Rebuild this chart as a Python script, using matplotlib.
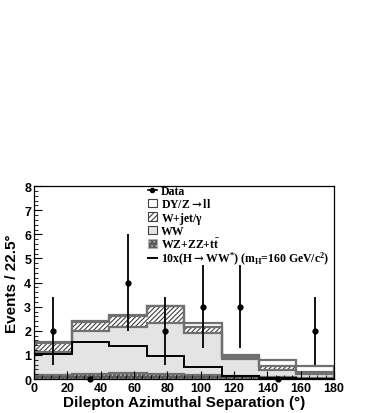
import numpy as np
import matplotlib
matplotlib.use("Agg")
import matplotlib.pyplot as plt
from matplotlib.patches import Patch
from matplotlib.lines import Line2D

# bin edges (degrees) and stacked backgrounds
edges = np.arange(0, 181, 22.5)
wz_zz_tt = [0.16, 0.22, 0.24, 0.22, 0.18, 0.14, 0.08, 0.06]
ww = [0.97, 1.77, 1.92, 2.09, 1.72, 0.68, 0.29, 0.16]
wjet = [0.38, 0.39, 0.47, 0.71, 0.26, 0.08, 0.18, 0.08]
dy = [0.01, 0.02, 0.02, 0.02, 0.17, 0.09, 0.23, 0.26]
higgs10 = [1.03, 1.55, 1.37, 0.97, 0.52, 0.12, 0.03, 0.01]

data_x = [11.25, 33.75, 56.25, 78.75, 101.25, 123.75, 146.25, 168.75]
data_y = [2, 0, 4, 2, 3, 3, 0, 2]
data_err = [1.41, 0, 2.0, 1.41, 1.73, 1.73, 0, 1.41]

plt.rcParams['mathtext.fontset'] = 'custom'
plt.rcParams['mathtext.rm'] = 'Liberation Serif:bold'
plt.rcParams['mathtext.it'] = 'Liberation Serif:bold'
plt.rcParams['mathtext.bf'] = 'Liberation Serif:bold'
plt.rcParams['mathtext.sf'] = 'DejaVu Serif:bold'
plt.rcParams['hatch.linewidth'] = 0.8

fig = plt.figure(figsize=(3.74, 4.14), dpi=100)
ax = fig.add_axes([0.091, 0.082, 0.802, 0.466])

outline = '#707070'
b0 = np.zeros(8)
b1 = b0 + np.array(wz_zz_tt)
b2 = b1 + np.array(ww)
b3 = b2 + np.array(wjet)
b4 = b3 + np.array(dy)

# DY on top (white)
ax.stairs(b4, edges, baseline=b3, fill=True, facecolor='white', edgecolor='none')
# W+jet hatched
ax.stairs(b3, edges, baseline=b2, fill=True, facecolor='white', edgecolor='#404040',
          hatch='///////', linewidth=0)
# WW light gray
ax.stairs(b2, edges, baseline=b1, fill=True, facecolor='#e4e4e4', edgecolor='none')
# WZ+ZZ+tt dark dotted
ax.stairs(b1, edges, baseline=b0, fill=True, facecolor='#5a5a5a', edgecolor='#b0b0b0',
          hatch='....', linewidth=0)
for top in (b1, b2, b3, b4):
    ax.stairs(top, edges, color=outline, linewidth=1.6)
ax.stairs(higgs10, edges, color='black', linewidth=1.4)

ax.errorbar(data_x, data_y, yerr=data_err, fmt='o', color='black', ms=3.5,
            elinewidth=1.3, capsize=0, zorder=5, clip_on=False)

ax.set_xlim(0, 180)
ax.set_ylim(0, 8)
ax.set_xticks(np.arange(0, 181, 20))
ax.set_xticks(np.arange(0, 181, 5), minor=True)
ax.set_yticks(np.arange(0, 9, 1))
ax.set_yticks(np.arange(0, 8.01, 0.2), minor=True)
ax.tick_params(direction='in', length=6, width=0.8, labelsize=9, pad=2)
ax.tick_params(which='minor', direction='in', length=3, width=0.6)
for lab in ax.get_xticklabels() + ax.get_yticklabels():
    lab.set_fontweight('bold')
    lab.set_family('Liberation Sans')
for s in ax.spines.values():
    s.set_linewidth(0.9)

ax.set_xlabel('Dilepton Azimuthal Separation (°)', fontsize=11, fontweight='bold',
              family='Liberation Sans', labelpad=1)
ax.set_ylabel('Events / 22.5°', fontsize=11, fontweight='bold',
              family='Liberation Sans', labelpad=4)

handles = [
    Line2D([], [], color='black', marker='o', ms=3, lw=1.2),
    Patch(facecolor='white', edgecolor='#404040', lw=0.8),
    Patch(facecolor='white', edgecolor='#404040', hatch='//////', lw=0.8),
    Patch(facecolor='#e4e4e4', edgecolor='#404040', lw=0.8),
    Patch(facecolor='#5a5a5a', edgecolor='#b0b0b0', hatch='....', lw=0.8),
    Line2D([], [], color='black', lw=1.4),
]
labels = [
    'Data',
    r'DY/Z$\mathsf{\rightarrow}$ll',
    r'W+jet/$\gamma$',
    'WW',
    r'WZ+ZZ+t$\bar{\mathrm{t}}$',
    r'10x(H$\mathsf{\rightarrow}$WW$^{*}$) (m$_{\mathrm{H}}$=160 GeV/c$^{2}$)',
]
leg = ax.legend(handles, labels, loc='upper left', bbox_to_anchor=(0.355, 1.04),
                frameon=False, handlelength=0.8, handleheight=0.75, handletextpad=0.3,
                labelspacing=-0.04, borderaxespad=0.2,
                prop={'family': 'Liberation Serif', 'weight': 'bold', 'size': 8.5})

fig.savefig('out.png', dpi=100)
